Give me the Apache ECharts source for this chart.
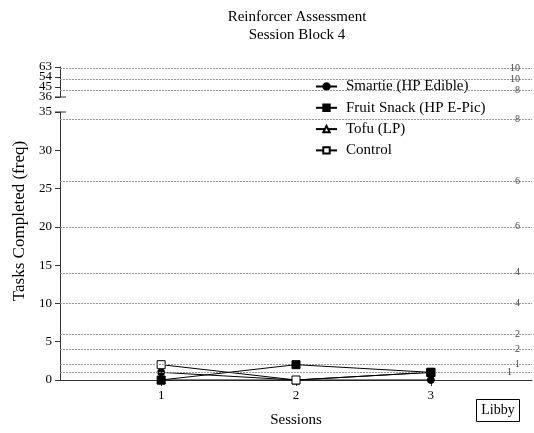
<!DOCTYPE html>
<html>
<head>
<meta charset="utf-8">
<script src="https://cdn.jsdelivr.net/npm/echarts@6/dist/echarts.min.js"></script>
<style>
  html, body { margin: 0; padding: 0; background: #fff; }
  #chart { width: 534px; height: 433px; }
</style>
</head>
<body>
<div id="chart"></div>
<script>
// Sessions and tasks completed per reinforcer
const sessions = [1, 2, 3];
const smartie = [1, 0, 0];
const fruitSnack = [0, 2, 1];
const tofu = [0, 0, 1];
const control = [2, 0, 1];

// Progressive-ratio steps: cumulative level and the step size printed beside it
const stepLevelsLow = [1, 2, 4, 6, 10, 14, 20, 26, 34];
const stepSizesLow = [1, 1, 2, 2, 4, 4, 6, 6, 8];
const stepLevelsHigh = [42, 52, 62];
const stepSizesHigh = [8, 10, 10];

// Broken y-axis ranges and the tick labels of the upper segment
const lowRange = [0, 35];
const highRange = [36, 63];
const highTicks = [36, 45, 54, 63];
const xRange = [0.25, 3.75];

const serif = '"Liberation Serif", "DejaVu Serif", serif';
const axisColor = '#333';
const tickFont = 13;

function stepLines(levels, sizes) {
  return levels.map((v, i) => {
    const item = { yAxis: v, label: { formatter: String(sizes[i]) } };
    // the lowest step label sits a little further left
    if (i === 0 && levels[0] === 1) item.label.distance = 20;
    return item;
  });
}

// short horizontal bar across the axis line where the axis is broken
function breakMark(gridIdx, yValue) {
  return {
    type: 'custom',
    xAxisIndex: gridIdx,
    yAxisIndex: gridIdx,
    silent: true,
    z: 5,
    data: [[xRange[0], yValue]],
    renderItem: function (params, api) {
      const p = api.coord([api.value(0), api.value(1)]);
      return {
        type: 'line',
        shape: { x1: p[0] - 5, y1: p[1], x2: p[0] + 6, y2: p[1] },
        style: { stroke: axisColor, lineWidth: 1 }
      };
    }
  };
}

// tightly packed tick labels of the upper axis segment
const highTickLabels = {
  type: 'custom',
  xAxisIndex: 0,
  yAxisIndex: 0,
  silent: true,
  z: 5,
  data: highTicks.map(v => [xRange[0], v]),
  renderItem: function (params, api) {
    const p = api.coord([api.value(0), api.value(1)]);
    return {
      type: 'text',
      x: p[0] - 8,
      y: p[1],
      style: {
        text: String(api.value(1)),
        fontFamily: serif, fontSize: tickFont, fill: '#000',
        align: 'right', verticalAlign: 'middle'
      }
    };
  }
};

const chart = echarts.init(document.getElementById('chart'), null, { renderer: 'canvas' });

const lineSeries = (name, data, symbol, size, filled, z) => ({
  name: name,
  type: 'line',
  xAxisIndex: 1,
  yAxisIndex: 1,
  data: sessions.map((s, i) => [s, data[i]]),
  symbol: symbol,
  symbolSize: size,
  showAllSymbol: true,
  z: z,
  lineStyle: { color: '#000', width: 1 },
  itemStyle: { color: filled ? '#000' : '#fff', borderColor: '#000', borderWidth: 1 },
  emphasis: { disabled: true },
  animation: false
});

chart.setOption({
  animation: false,
  backgroundColor: '#fff',
  legend: {
    orient: 'vertical',
    left: 315,
    top: 79,
    padding: 0,
    itemWidth: 21,
    itemHeight: 8,
    itemGap: 6.3,
    data: ['Smartie (HP Edible)', 'Fruit Snack (HP E-Pic)', 'Tofu (LP)', 'Control'],
    textStyle: { fontFamily: serif, fontSize: 15, lineHeight: 14, color: '#000', padding: [0, 0, 0, 4] },
    selectedMode: false
  },
  grid: [
    { left: 60, right: 2, top: 67, height: 30 },
    { left: 60, right: 2, top: 112, height: 270 }
  ],
  xAxis: [
    { gridIndex: 0, type: 'value', min: xRange[0], max: xRange[1], show: false },
    {
      gridIndex: 1, type: 'value', min: xRange[0], max: xRange[1],
      name: 'Sessions', nameLocation: 'middle', nameGap: 33,
      nameTextStyle: { fontFamily: serif, fontSize: 15, color: '#000' },
      axisLine: { show: true, onZero: false, lineStyle: { color: axisColor, width: 1 } },
      axisTick: { show: true, length: 6, customValues: sessions, lineStyle: { color: axisColor } },
      axisLabel: { customValues: sessions, fontFamily: serif, fontSize: tickFont, color: '#000', margin: 9 },
      splitLine: { show: false }
    }
  ],
  yAxis: [
    {
      gridIndex: 0, type: 'value', min: highRange[0], max: highRange[1], interval: 9,
      axisLine: { show: true, onZero: false, lineStyle: { color: axisColor, width: 1 } },
      axisTick: { show: true, length: 5, lineStyle: { color: axisColor } },
      axisLabel: { show: false },
      splitLine: { show: false }
    },
    {
      gridIndex: 1, type: 'value', min: lowRange[0], max: lowRange[1], interval: 5,
      name: 'Tasks Completed (freq)', nameLocation: 'middle', nameGap: 30,
      nameTextStyle: { fontFamily: serif, fontSize: 17, color: '#000', padding: [0, 0, 0, 50] },
      axisLine: { show: true, onZero: false, lineStyle: { color: axisColor, width: 1 } },
      axisTick: { show: true, length: 5, lineStyle: { color: axisColor } },
      axisLabel: { fontFamily: serif, fontSize: tickFont, color: '#000', margin: 8, showMinLabel: true, showMaxLabel: true },
      splitLine: { show: false }
    }
  ],
  series: [
    {
      type: 'line', xAxisIndex: 0, yAxisIndex: 0, data: [], silent: true, z: 1,
      markLine: {
        silent: true, symbol: 'none', animation: false,
        lineStyle: { color: '#999', type: [2, 1], width: 1 },
        label: { position: 'insideEnd', distance: 12, fontFamily: serif, fontSize: 10, color: '#444' },
        data: stepLines(stepLevelsHigh, stepSizesHigh)
      }
    },
    {
      type: 'line', xAxisIndex: 1, yAxisIndex: 1, data: [], silent: true, z: 1,
      markLine: {
        silent: true, symbol: 'none', animation: false,
        lineStyle: { color: '#999', type: [2, 1], width: 1 },
        label: { position: 'insideEnd', distance: 12, fontFamily: serif, fontSize: 10, color: '#444' },
        data: stepLines(stepLevelsLow, stepSizesLow)
      }
    },
    breakMark(0, highRange[0]),
    breakMark(1, lowRange[1]),
    highTickLabels,
    lineSeries('Tofu (LP)', tofu, 'triangle', 8, false, 2),
    lineSeries('Smartie (HP Edible)', smartie, 'circle', 7, true, 3),
    lineSeries('Control', control, 'rect', 8, false, 4),
    lineSeries('Fruit Snack (HP E-Pic)', fruitSnack, 'rect', 8, true, 5)
  ],
  graphic: [
    {
      type: 'text', x: 297, y: 17,
      style: { text: 'Reinforcer Assessment', fontFamily: serif, fontSize: 15, fill: '#000', align: 'center', verticalAlign: 'middle' }
    },
    {
      type: 'text', x: 297, y: 35,
      style: { text: 'Session Block 4', fontFamily: serif, fontSize: 15, fill: '#000', align: 'center', verticalAlign: 'middle' }
    },
    {
      type: 'group', right: 14, bottom: 11,
      children: [
        { type: 'rect', shape: { x: 0, y: 0, width: 43, height: 22 }, style: { fill: '#fff', stroke: '#000', lineWidth: 1 } },
        { type: 'text', x: 21.5, y: 11, style: { text: 'Libby', fontFamily: serif, fontSize: 14, fill: '#000', align: 'center', verticalAlign: 'middle' } }
      ]
    }
  ]
});
</script>
</body>
</html>
